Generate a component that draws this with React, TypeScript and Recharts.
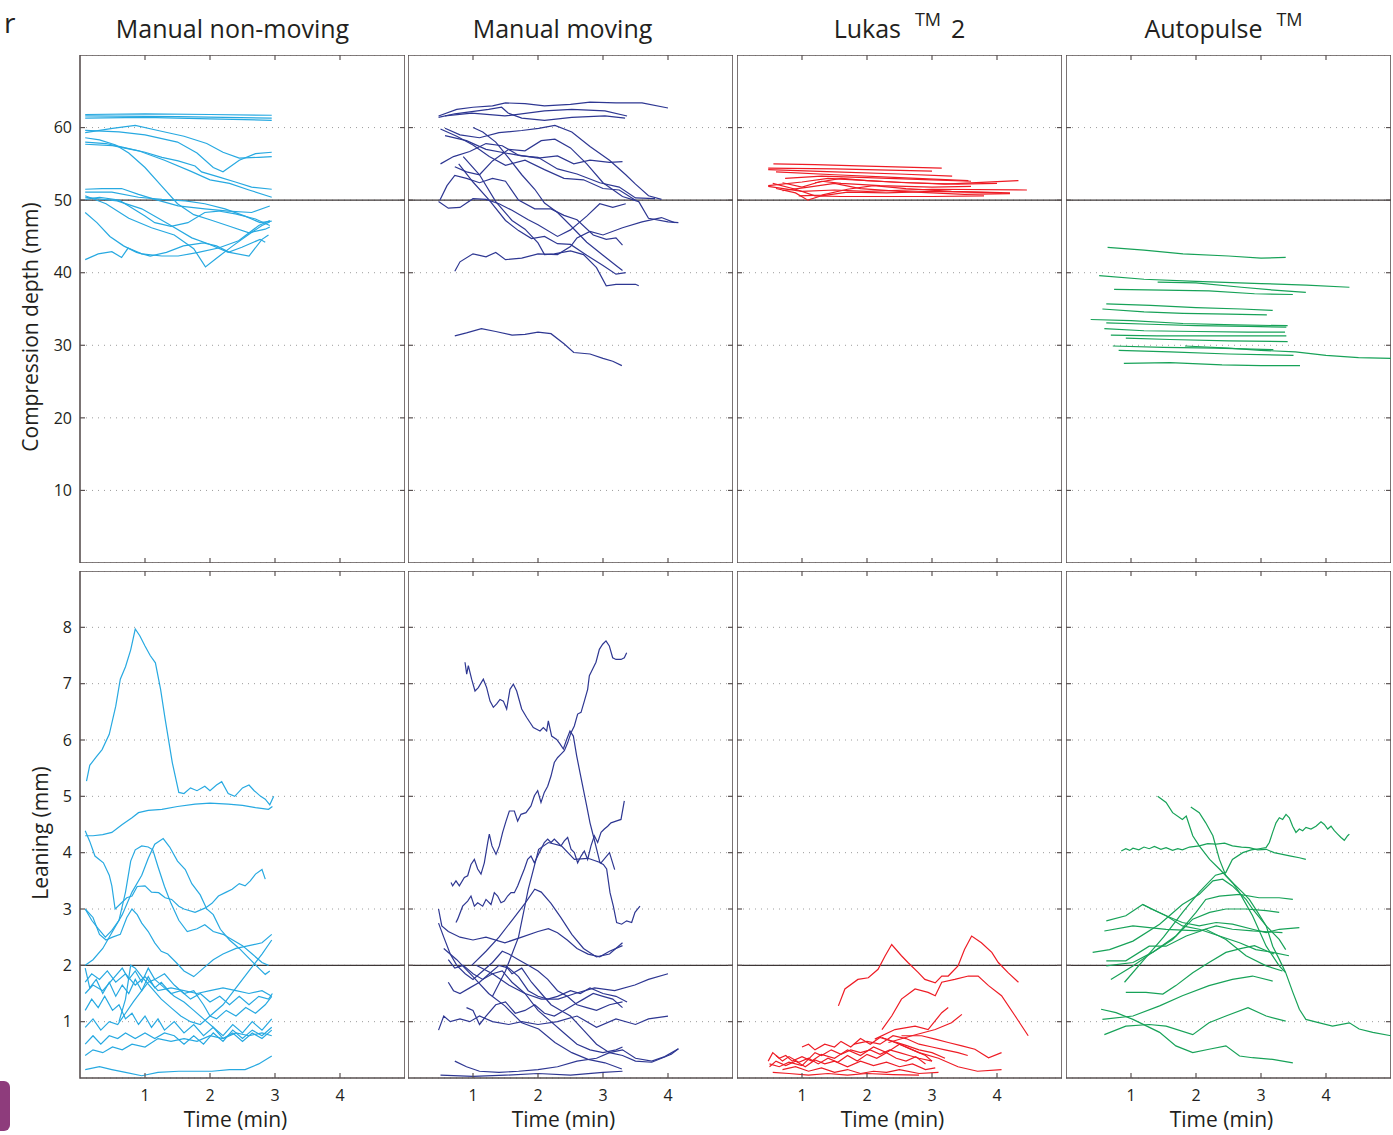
import React from "react";
import {
  LineChart,
  Line,
  XAxis,
  YAxis,
  CartesianGrid,
  ReferenceLine,
  ReferenceArea,
} from "recharts";

type Pt = [number, number];

const FONT = "'Open Sans', 'DejaVu Sans', sans-serif";
const INK = "#231f20";
const FRAME = "#5a5252";

const groups = ["Manual non-moving", "Manual moving", "Lukas", "Autopulse"];
const colors = ["#27a9e1", "#2e3792", "#ee1c25", "#17a258"];
const timeTicks = [1, 2, 3, 4];
const depthTicks = [10, 20, 30, 40, 50, 60];
const leanTicks = [1, 2, 3, 4, 5, 6, 7, 8];

// compression depth (mm) vs time (min), one array of [t, v] per rescuer / device
const depthNonMoving: Pt[][] = [
  [[0.08, 61.8], [1.0, 61.9], [2.0, 61.8], [2.95, 61.7]],
  [[0.08, 61.6], [1.5, 61.5], [2.95, 61.3]],
  [[0.08, 61.3], [1.0, 61.4], [2.0, 61.2], [2.95, 61.0]],
  [[0.08, 59.3], [0.5, 59.9], [0.85, 60.3], [1.2, 59.6], [1.6, 58.8], [1.95, 57.8], [2.2, 56.6], [2.45, 55.8], [2.75, 55.9], [2.95, 56.0]],
  [[0.08, 59.6], [0.6, 59.4], [1.0, 59.0], [1.5, 58.0], [1.8, 56.5], [2.05, 54.5], [2.2, 53.9], [2.45, 55.5], [2.7, 56.4], [2.95, 56.6]],
  [[0.08, 58.0], [0.4, 57.8], [0.65, 57.3], [1.0, 56.6], [1.26, 55.9], [1.51, 55.4], [1.77, 54.7], [1.87, 53.9], [2.13, 53.2], [2.39, 52.5], [2.64, 51.8], [2.95, 51.5]],
  [[0.08, 57.7], [0.5, 57.5], [0.9, 56.8], [1.3, 55.5], [1.7, 54.0], [2.0, 52.8], [2.3, 52.3], [2.6, 51.4], [2.95, 50.4]],
  [[0.08, 58.6], [0.3, 58.3], [0.55, 57.6], [0.75, 56.5], [1.0, 54.5], [1.25, 52.0], [1.5, 49.5], [1.75, 48.0], [2.0, 47.3], [2.3, 46.4], [2.6, 45.5], [2.85, 46.0], [2.92, 46.3]],
  [[0.08, 51.5], [0.34, 51.6], [0.64, 51.6], [0.9, 50.8], [1.15, 50.1], [1.51, 49.2], [1.92, 48.8], [2.28, 48.5], [2.64, 48.3], [2.92, 49.2]],
  [[0.08, 51.1], [0.49, 51.1], [0.9, 50.4], [1.26, 50.1], [1.62, 49.9], [1.92, 49.5], [2.23, 48.8], [2.54, 47.8], [2.77, 46.9], [2.95, 47.1]],
  [[0.08, 50.1], [0.3, 50.4], [0.6, 50.0], [0.75, 49.2], [1.0, 47.8], [1.15, 46.9], [1.4, 46.4], [1.66, 46.9], [1.92, 48.3], [2.13, 48.5], [2.39, 48.1], [2.7, 47.4], [2.92, 46.5]],
  [[0.08, 48.3], [0.26, 46.9], [0.46, 45.0], [0.67, 43.7], [0.87, 42.8], [1.08, 42.3], [1.33, 42.8], [1.59, 43.7], [1.9, 44.1], [2.1, 43.7], [2.3, 42.8], [2.6, 42.3], [2.8, 44.6], [2.9, 45.2]],
  [[0.08, 41.8], [0.28, 42.6], [0.49, 42.9], [0.64, 42.1], [0.74, 43.4], [0.95, 42.6], [1.26, 42.3], [1.51, 42.3], [1.82, 42.8], [2.13, 43.4], [2.44, 44.4], [2.75, 46.5], [2.92, 47.2]],
  [[0.08, 50.6], [0.4, 49.5], [0.75, 47.5], [1.1, 46.2], [1.45, 45.2], [1.75, 43.3], [1.93, 40.8], [2.1, 42.0], [2.35, 43.7], [2.6, 45.3], [2.8, 46.5], [2.92, 47.0]],
  [[0.08, 50.4], [0.57, 49.9], [0.95, 48.8], [1.36, 46.7], [1.72, 44.8], [1.97, 44.0], [2.28, 42.8], [2.49, 43.5], [2.77, 44.6], [2.85, 44.2]],
];

const depthMoving: Pt[][] = [
  [[0.47, 61.6], [0.75, 62.5], [1.0, 62.8], [1.3, 63.0], [1.5, 63.4], [1.8, 63.3], [2.1, 63.0], [2.5, 63.2], [2.8, 63.5], [3.2, 63.4], [3.6, 63.4], [4.0, 62.7]],
  [[0.47, 61.4], [0.72, 61.9], [1.24, 62.5], [1.44, 62.8], [1.54, 62.0], [1.75, 61.3], [2.1, 61.0], [2.52, 61.4], [3.03, 61.6], [3.34, 61.3]],
  [[0.57, 61.6], [0.98, 62.0], [1.49, 61.6], [2.1, 62.3], [2.52, 62.5], [3.03, 62.3], [3.37, 61.6]],
  [[0.57, 59.9], [0.8, 59.0], [1.1, 58.6], [1.4, 59.3], [1.75, 59.6], [2.01, 59.9], [2.26, 60.3], [2.52, 59.4], [2.8, 57.4], [3.1, 55.5], [3.35, 53.5], [3.5, 52.2], [3.7, 50.6], [3.9, 50.1]],
  [[0.57, 58.9], [0.9, 58.2], [1.2, 57.0], [1.5, 56.5], [1.75, 56.1], [2.0, 55.9], [2.3, 54.3], [2.6, 53.6], [2.95, 52.4], [3.25, 51.8], [3.5, 50.3], [3.8, 50.2]],
  [[0.5, 55.0], [0.7, 56.0], [0.95, 56.7], [1.2, 57.8], [1.45, 57.5], [1.7, 56.2], [2.0, 55.8], [2.3, 56.1], [2.55, 55.0], [2.8, 55.5], [3.1, 55.2], [3.3, 55.3]],
  [[0.72, 54.6], [0.9, 53.9], [1.1, 53.5], [1.3, 55.4], [1.55, 57.0], [1.8, 56.8], [2.05, 58.2], [2.26, 58.4], [2.5, 57.2], [2.75, 55.0], [3.0, 52.4], [3.3, 50.5], [3.55, 49.8], [3.7, 47.5], [4.0, 47.0], [4.16, 46.9]],
  [[0.49, 50.0], [0.6, 52.0], [0.72, 53.4], [0.9, 53.0], [1.1, 52.4], [1.3, 53.0], [1.5, 52.6], [1.7, 50.0], [1.95, 48.8], [2.2, 48.8], [2.4, 47.9], [2.6, 47.3], [2.85, 45.2], [3.05, 44.6], [3.2, 44.8], [3.3, 43.8]],
  [[0.47, 49.8], [0.62, 48.9], [0.8, 49.0], [1.0, 50.2], [1.2, 50.1], [1.4, 49.5], [1.6, 48.6], [1.85, 47.3], [2.0, 46.6], [2.3, 45.0], [2.5, 45.9], [2.75, 47.8], [2.95, 49.5], [3.15, 49.0], [3.35, 49.5]],
  [[0.85, 56.0], [1.1, 53.5], [1.35, 49.8], [1.6, 47.2], [1.8, 46.0], [2.0, 44.1], [2.1, 42.5], [2.25, 42.6], [2.5, 43.0], [2.7, 42.5], [2.9, 40.7], [3.05, 38.2], [3.2, 38.4], [3.5, 38.4], [3.55, 38.2]],
  [[0.78, 55.0], [1.0, 52.5], [1.25, 50.0], [1.5, 47.2], [1.7, 45.8], [1.9, 44.7], [2.1, 45.0], [2.3, 44.0], [2.5, 43.9], [2.75, 42.4], [3.0, 41.0], [3.2, 39.8], [3.35, 40.0]],
  [[0.72, 40.2], [0.8, 41.5], [1.0, 42.6], [1.2, 42.2], [1.35, 42.8], [1.5, 41.8], [1.75, 42.0], [2.0, 42.6], [2.3, 42.5], [2.5, 43.6], [2.6, 44.8], [2.8, 45.7], [3.0, 45.2], [3.3, 46.2], [3.6, 47.0], [3.9, 47.6], [4.1, 46.9]],
  [[0.72, 31.3], [0.9, 31.7], [1.13, 32.3], [1.35, 31.9], [1.6, 31.4], [1.8, 31.5], [2.0, 31.8], [2.2, 31.6], [2.4, 30.2], [2.55, 29.0], [2.8, 28.8], [3.0, 28.2], [3.15, 27.8], [3.29, 27.2]],
  [[1.0, 60.0], [1.15, 59.4], [1.35, 58.0], [1.55, 55.8], [1.75, 53.5], [1.95, 51.5], [2.1, 49.6], [2.3, 48.3], [2.5, 46.5], [2.75, 44.2], [3.0, 42.4], [3.2, 41.0], [3.3, 40.3]],
  [[0.5, 59.8], [0.75, 58.8], [1.0, 57.6], [1.25, 56.0], [1.5, 54.8], [1.8, 55.5], [2.1, 54.2], [2.4, 53.0], [2.7, 52.8], [3.0, 51.6], [3.25, 51.4], [3.5, 50.0]],
];

const depthLukas: Pt[][] = [
  [[0.56, 55.0], [1.2, 54.9], [2.0, 54.7], [3.15, 54.4]],
  [[0.48, 54.4], [1.5, 54.3], [2.5, 54.1], [3.0, 54.0]],
  [[0.48, 54.2], [1.5, 53.9], [2.5, 53.6], [3.31, 53.3]],
  [[0.6, 53.9], [1.5, 53.5], [2.5, 53.1], [3.56, 52.7]],
  [[0.74, 53.0], [1.3, 53.3], [2.0, 53.1], [3.0, 52.8], [3.6, 52.6]],
  [[0.48, 52.0], [1.0, 52.5], [1.4, 53.0], [1.8, 52.8], [2.4, 52.5], [3.2, 52.2], [4.33, 52.7]],
  [[0.48, 51.9], [1.0, 51.2], [1.5, 51.4], [2.0, 51.2], [3.0, 51.5], [4.46, 51.4]],
  [[0.6, 51.6], [0.9, 51.0], [1.09, 50.0], [1.3, 50.6], [1.7, 51.1], [2.3, 51.0], [3.0, 51.2], [4.07, 51.0]],
  [[0.7, 52.4], [1.0, 51.8], [1.3, 52.6], [1.6, 52.3], [2.2, 52.0], [3.0, 51.8], [3.6, 51.9]],
  [[0.55, 52.3], [0.9, 51.5], [1.2, 50.6], [1.6, 50.5], [2.2, 50.5], [3.0, 50.5], [3.8, 50.6]],
  [[0.95, 50.6], [1.3, 50.7], [1.7, 51.5], [2.1, 52.0], [2.6, 51.6], [3.3, 51.2], [4.2, 51.0]],
  [[0.7, 51.3], [1.1, 51.8], [1.5, 52.3], [1.9, 51.6], [2.5, 51.2], [3.5, 50.8], [4.2, 50.9]],
  [[1.2, 52.4], [1.6, 53.0], [2.0, 52.7], [2.6, 52.4], [3.4, 52.2], [4.0, 52.3]],
];

const depthAutopulse: Pt[][] = [
  [[0.64, 43.5], [1.2, 43.1], [1.8, 42.6], [2.5, 42.3], [3.0, 42.0], [3.38, 42.1]],
  [[0.51, 39.6], [1.2, 39.1], [2.0, 38.8], [3.0, 38.5], [3.7, 38.3], [4.36, 38.0]],
  [[1.41, 38.7], [2.0, 38.6], [2.7, 38.0], [3.2, 37.6], [3.69, 37.3]],
  [[0.74, 37.7], [1.5, 37.6], [2.2, 37.5], [2.9, 37.1], [3.49, 37.0]],
  [[0.62, 35.7], [1.3, 35.5], [2.0, 35.2], [2.7, 35.0], [3.18, 34.8]],
  [[0.56, 35.0], [1.2, 34.6], [1.8, 34.4], [2.5, 34.3], [3.09, 34.2]],
  [[0.38, 33.55], [1.0, 33.4], [1.8, 33.0], [2.6, 32.8], [3.41, 32.7]],
  [[0.62, 33.1], [1.3, 32.9], [2.0, 32.7], [2.8, 32.6], [3.39, 32.5]],
  [[0.59, 32.3], [1.2, 32.0], [2.0, 31.9], [2.8, 31.8], [3.37, 31.8]],
  [[0.69, 31.4], [1.4, 31.3], [2.2, 31.3], [3.39, 31.3]],
  [[0.92, 31.0], [1.6, 30.8], [2.5, 30.6], [3.41, 30.5]],
  [[1.83, 29.9], [2.5, 29.6], [3.0, 29.3], [3.53, 29.1], [4.0, 28.6], [4.5, 28.3], [5.0, 28.2]],
  [[0.72, 29.9], [1.5, 29.7], [2.3, 29.6], [3.19, 29.4]],
  [[0.81, 29.3], [1.6, 29.1], [2.5, 28.8], [3.5, 28.6]],
  [[0.89, 27.5], [1.6, 27.6], [2.4, 27.3], [3.0, 27.2], [3.6, 27.2]],
];

// leaning (mm) vs time (min)
const leanNonMoving: Pt[][] = [
  [[0.1, 5.27], [0.15, 5.55], [0.25, 5.7], [0.34, 5.83], [0.45, 6.1], [0.55, 6.6], [0.62, 7.08], [0.7, 7.3], [0.78, 7.6], [0.85, 7.97], [0.92, 7.85], [1.0, 7.67], [1.08, 7.5], [1.16, 7.37], [1.24, 6.9], [1.31, 6.37], [1.42, 5.6], [1.52, 5.07], [1.6, 5.05], [1.7, 5.15], [1.8, 5.1], [1.92, 5.18], [2.0, 5.1], [2.1, 5.2], [2.18, 5.26], [2.28, 5.05], [2.38, 5.0], [2.5, 5.15], [2.6, 5.2], [2.68, 5.1], [2.78, 5.0], [2.85, 4.95], [2.92, 4.85], [2.98, 5.0]],
  [[0.08, 4.3], [0.2, 4.3], [0.35, 4.32], [0.49, 4.36], [0.65, 4.5], [0.8, 4.62], [0.9, 4.71], [1.05, 4.75], [1.26, 4.77], [1.5, 4.82], [1.77, 4.86], [2.0, 4.88], [2.28, 4.86], [2.5, 4.84], [2.7, 4.8], [2.9, 4.77], [2.96, 4.82]],
  [[0.08, 4.39], [0.15, 4.2], [0.23, 3.94], [0.36, 3.82], [0.45, 3.6], [0.49, 3.41], [0.54, 3.0], [0.64, 3.11], [0.72, 3.2], [0.8, 3.23], [0.88, 3.4], [1.0, 3.41], [1.1, 3.3], [1.21, 3.29], [1.31, 3.2], [1.41, 3.17], [1.52, 3.05], [1.6, 3.0], [1.77, 2.94], [1.93, 3.02], [2.03, 3.1], [2.13, 3.23], [2.25, 3.3], [2.34, 3.35], [2.45, 3.45], [2.54, 3.41], [2.62, 3.5], [2.7, 3.62], [2.8, 3.7], [2.85, 3.53]],
  [[0.08, 3.0], [0.18, 2.8], [0.28, 2.65], [0.39, 2.5], [0.49, 2.62], [0.6, 2.8], [0.7, 3.3], [0.78, 3.85], [0.85, 4.05], [0.95, 4.12], [1.05, 4.1], [1.12, 4.05], [1.2, 3.75], [1.3, 3.4], [1.4, 3.1], [1.52, 2.8], [1.65, 2.6], [1.8, 2.65], [1.92, 2.72], [2.05, 2.6], [2.2, 2.55], [2.35, 2.45], [2.5, 2.35], [2.65, 2.2], [2.8, 2.05], [2.9, 2.0]],
  [[0.08, 2.0], [0.2, 2.1], [0.35, 2.3], [0.5, 2.6], [0.65, 2.9], [0.8, 3.3], [0.95, 3.6], [1.05, 3.9], [1.15, 4.15], [1.28, 4.25], [1.38, 4.1], [1.5, 3.85], [1.62, 3.7], [1.72, 3.45], [1.85, 3.25], [1.95, 3.0], [2.05, 2.9], [2.16, 2.64], [2.3, 2.45], [2.45, 2.3], [2.62, 2.1], [2.75, 1.95], [2.85, 1.84], [2.92, 1.9]],
  [[0.08, 3.0], [0.2, 2.85], [0.3, 2.55], [0.4, 2.45], [0.5, 2.5], [0.62, 2.55], [0.72, 2.85], [0.8, 3.0], [0.88, 2.9], [0.95, 2.75], [1.05, 2.6], [1.15, 2.4], [1.25, 2.25], [1.35, 2.2], [1.48, 2.05], [1.6, 1.9], [1.75, 1.8], [1.9, 1.95], [2.05, 2.1], [2.2, 2.2], [2.4, 2.3], [2.6, 2.35], [2.8, 2.4], [2.95, 2.55]],
  [[0.08, 1.95], [0.15, 1.6], [0.25, 1.75], [0.35, 1.5], [0.45, 1.7], [0.55, 1.45], [0.65, 1.65], [0.75, 1.5], [0.85, 1.75], [0.95, 1.55], [1.05, 1.8], [1.15, 1.6], [1.25, 1.7], [1.4, 1.5], [1.55, 1.55], [1.7, 1.4], [1.85, 1.5], [2.0, 1.35], [2.15, 1.45], [2.3, 1.3], [2.45, 1.45], [2.6, 1.3], [2.75, 1.45], [2.9, 1.4], [2.96, 1.5]],
  [[0.08, 1.5], [0.2, 1.65], [0.35, 1.55], [0.5, 1.75], [0.65, 1.95], [0.75, 1.75], [0.85, 1.9], [0.95, 1.7], [1.05, 1.95], [1.15, 1.75], [1.3, 1.85], [1.45, 1.65], [1.6, 1.5], [1.75, 1.55], [1.9, 1.3], [2.0, 1.1], [2.1, 1.05], [2.25, 1.2], [2.4, 1.1], [2.55, 1.25], [2.7, 1.15], [2.85, 1.3], [2.95, 1.45]],
  [[0.08, 1.2], [0.18, 1.4], [0.28, 1.25], [0.38, 1.45], [0.5, 1.2], [0.6, 1.3], [0.7, 1.05], [0.8, 1.15], [0.9, 0.95], [1.0, 1.1], [1.1, 0.9], [1.2, 1.05], [1.3, 0.85], [1.45, 1.0], [1.6, 0.8], [1.75, 0.95], [1.9, 0.75], [2.05, 0.9], [2.2, 0.75], [2.35, 0.95], [2.5, 0.8], [2.65, 1.0], [2.8, 0.85], [2.95, 1.05]],
  [[0.08, 0.9], [0.2, 1.05], [0.32, 0.85], [0.45, 1.0], [0.58, 0.95], [0.7, 1.15], [0.82, 1.35], [0.95, 1.55], [1.05, 1.7], [1.15, 1.75], [1.3, 1.6], [1.45, 1.45], [1.6, 1.35], [1.75, 1.2], [1.9, 1.05], [2.05, 0.9], [2.2, 0.7], [2.35, 0.8], [2.5, 0.65], [2.65, 0.8], [2.8, 0.7], [2.95, 0.85]],
  [[0.08, 0.6], [0.2, 0.75], [0.32, 0.6], [0.45, 0.75], [0.58, 0.7], [0.7, 0.8], [0.85, 0.7], [1.0, 0.8], [1.15, 0.7], [1.3, 0.8], [1.45, 0.75], [1.6, 0.6], [1.75, 0.75], [1.9, 0.6], [2.05, 0.8], [2.2, 0.65], [2.35, 0.85], [2.5, 0.7], [2.65, 0.85], [2.8, 0.75], [2.95, 0.9]],
  [[0.08, 0.4], [0.2, 0.5], [0.35, 0.45], [0.5, 0.55], [0.65, 0.5], [0.8, 0.6], [1.0, 0.55], [1.2, 0.7], [1.4, 0.65], [1.6, 0.7], [1.8, 0.65], [2.0, 0.75], [2.2, 0.7], [2.4, 0.8], [2.6, 0.75], [2.8, 0.8], [2.95, 0.75]],
  [[0.08, 0.15], [0.3, 0.2], [0.49, 0.15], [0.7, 0.1], [0.95, 0.04], [1.2, 0.1], [1.52, 0.12], [1.8, 0.12], [2.03, 0.12], [2.3, 0.15], [2.54, 0.15], [2.75, 0.25], [2.95, 0.39]],
  [[0.08, 1.7], [0.18, 1.85], [0.3, 1.75], [0.42, 1.9], [0.55, 1.7], [0.7, 1.85], [0.85, 1.65], [1.0, 1.8], [1.2, 1.55], [1.4, 1.6], [1.6, 1.55], [1.8, 1.5], [2.0, 1.55], [2.2, 1.6], [2.4, 1.55], [2.6, 1.5], [2.8, 1.55], [2.95, 1.45]],
  [[0.6, 1.0], [0.7, 1.4], [0.78, 2.0], [0.85, 1.95], [0.95, 1.8], [1.1, 1.6], [1.25, 1.4], [1.4, 1.25], [1.55, 1.1], [1.7, 1.0], [1.85, 0.95], [2.0, 1.1], [2.2, 1.3], [2.4, 1.6], [2.6, 1.9], [2.8, 2.2], [2.95, 2.45]],
];

const leanMoving: Pt[][] = [
  [[0.877, 7.38], [0.903, 7.17], [0.928, 7.32], [0.979, 7.08], [1.031, 6.87], [1.082, 6.93], [1.159, 7.08], [1.21, 6.93], [1.262, 6.69], [1.313, 6.58], [1.364, 6.64], [1.415, 6.72], [1.467, 6.69], [1.518, 6.55], [1.569, 6.9], [1.621, 6.99], [1.672, 6.87], [1.749, 6.55], [1.826, 6.4], [1.877, 6.31], [1.928, 6.22], [1.979, 6.19], [2.031, 6.16], [2.082, 6.22], [2.133, 6.16], [2.159, 6.34], [2.21, 6.07], [2.287, 6.01], [2.338, 5.93], [2.39, 5.84], [2.441, 6.01], [2.492, 6.16], [2.544, 6.07], [2.595, 5.72], [2.646, 5.42], [2.697, 5.13], [2.749, 4.83], [2.8, 4.53], [2.851, 4.3], [2.903, 4.06], [2.954, 3.82], [3.005, 3.79], [3.056, 3.71], [3.108, 3.29], [3.159, 3.05], [3.21, 2.76], [3.287, 2.73], [3.364, 2.79], [3.441, 2.76], [3.492, 2.94], [3.569, 3.05]],
  [[0.662, 3.47], [0.687, 3.41], [0.738, 3.5], [0.79, 3.41], [0.867, 3.56], [0.918, 3.59], [0.969, 3.79], [1.021, 3.88], [1.072, 3.71], [1.123, 3.62], [1.174, 3.82], [1.226, 4.18], [1.251, 4.33], [1.292, 4.12], [1.354, 3.97], [1.405, 4.12], [1.456, 4.36], [1.508, 4.56], [1.559, 4.74], [1.636, 4.74], [1.687, 4.56], [1.738, 4.68], [1.815, 4.71], [1.892, 4.83], [1.944, 5.01], [1.995, 5.1], [2.046, 4.89], [2.097, 5.07], [2.149, 5.18], [2.2, 5.36], [2.251, 5.6], [2.303, 5.69], [2.354, 5.75], [2.405, 5.81], [2.456, 5.95], [2.508, 6.13], [2.559, 6.25], [2.61, 6.46], [2.662, 6.49], [2.713, 6.69], [2.764, 6.9], [2.79, 7.14], [2.841, 7.26], [2.892, 7.38], [2.944, 7.61], [2.995, 7.7], [3.046, 7.76], [3.097, 7.67], [3.149, 7.46], [3.2, 7.43], [3.277, 7.43], [3.328, 7.46], [3.364, 7.55]],
  [[0.738, 2.76], [0.764, 2.82], [0.841, 3.05], [0.918, 3.14], [0.969, 3.23], [1.021, 3.05], [1.072, 3.11], [1.149, 3.05], [1.2, 3.17], [1.277, 3.08], [1.328, 3.29], [1.379, 3.23], [1.431, 3.11], [1.482, 3.14], [1.533, 3.23], [1.585, 3.29], [1.636, 3.29], [1.687, 3.41], [1.738, 3.56], [1.79, 3.71], [1.841, 3.88], [1.892, 3.94], [1.944, 3.82], [1.995, 3.94], [2.046, 4.06], [2.097, 4.18], [2.149, 4.24], [2.2, 4.18], [2.251, 4.24], [2.303, 4.18], [2.354, 4.12], [2.405, 4.21], [2.456, 4.27], [2.508, 4.06], [2.559, 4.0], [2.61, 3.82], [2.662, 3.94], [2.713, 4.03], [2.764, 3.88], [2.815, 4.12], [2.867, 4.3], [2.918, 4.18], [2.97, 4.36], [3.021, 4.42], [3.072, 4.47], [3.123, 4.53], [3.2, 4.56], [3.277, 4.59], [3.328, 4.92]],
  [[1.3, 1.45], [1.5, 1.9], [1.7, 2.5], [1.85, 3.35], [2.01, 4.06], [2.16, 4.18], [2.36, 4.12], [2.56, 3.88], [2.77, 3.9], [2.97, 3.82], [3.1, 4.0], [3.18, 3.7]],
  [[0.47, 3.0], [0.52, 2.7], [0.62, 2.6], [0.8, 2.5], [1.0, 2.45], [1.2, 2.5], [1.49, 2.4], [1.75, 2.5], [2.0, 2.6], [2.16, 2.65], [2.3, 2.58], [2.45, 2.45], [2.6, 2.3], [2.77, 2.2], [2.95, 2.15], [3.1, 2.25], [3.3, 2.35]],
  [[0.98, 2.0], [1.2, 2.25], [1.4, 2.5], [1.6, 2.8], [1.8, 3.1], [1.95, 3.35], [2.05, 3.3], [2.2, 3.1], [2.35, 2.85], [2.52, 2.55], [2.7, 2.3], [2.9, 2.15], [3.1, 2.2], [3.3, 2.4]],
  [[0.47, 2.75], [0.55, 2.5], [0.65, 2.2], [0.75, 2.0], [0.88, 1.85], [1.0, 1.75], [1.15, 1.9], [1.3, 2.05], [1.45, 2.25], [1.55, 2.2], [1.7, 2.1], [1.85, 2.0], [2.0, 1.9], [2.15, 1.75], [2.3, 1.55], [2.45, 1.45], [2.6, 1.3], [2.75, 1.25], [2.9, 1.2], [3.1, 1.3], [3.3, 1.35]],
  [[0.62, 1.7], [0.7, 1.55], [0.8, 1.5], [0.95, 1.6], [1.1, 1.7], [1.25, 1.85], [1.4, 2.0], [1.55, 1.95], [1.7, 1.8], [1.85, 1.55], [2.0, 1.45], [2.15, 1.4], [2.3, 1.45], [2.5, 1.55], [2.65, 1.5], [2.8, 1.6], [3.0, 1.5], [3.2, 1.45], [3.37, 1.35]],
  [[1.5, 2.0], [1.6, 1.85], [1.75, 1.95], [1.9, 1.7], [2.05, 1.5], [2.2, 1.3], [2.35, 1.2], [2.5, 1.1], [2.7, 0.85], [2.9, 0.6], [3.1, 0.45], [3.3, 0.4], [3.5, 0.3], [3.75, 0.28], [3.9, 0.35], [4.05, 0.42], [4.16, 0.52]],
  [[1.05, 2.0], [1.3, 1.85], [1.55, 1.65], [1.8, 1.5], [2.05, 1.4], [2.31, 1.4], [2.57, 1.5], [2.87, 1.6], [3.18, 1.55], [3.49, 1.65], [3.7, 1.75], [4.0, 1.85]],
  [[0.47, 0.85], [0.55, 1.1], [0.65, 1.0], [0.8, 1.05], [0.95, 1.0], [1.1, 1.1], [1.3, 1.0], [1.55, 0.95], [1.75, 1.0], [2.0, 0.95], [2.3, 1.0], [2.6, 1.1], [2.9, 0.9], [3.2, 1.05], [3.5, 0.95], [3.7, 1.05], [4.0, 1.1]],
  [[0.72, 0.3], [0.9, 0.2], [1.1, 0.12], [1.4, 0.1], [1.7, 0.12], [2.0, 0.15], [2.3, 0.2], [2.6, 0.3], [2.9, 0.35], [3.1, 0.45], [3.3, 0.5], [3.5, 0.35], [3.75, 0.3], [3.95, 0.38], [4.16, 0.52]],
  [[0.5, 0.05], [1.0, 0.03], [1.5, 0.05], [2.0, 0.08], [2.5, 0.05], [3.0, 0.1], [3.3, 0.12]],
  [[0.55, 2.3], [0.75, 2.1], [1.0, 1.8], [1.24, 1.5], [1.49, 1.28], [1.75, 0.98], [2.01, 0.87], [2.26, 0.63], [2.52, 0.45], [2.77, 0.33], [3.03, 0.27], [3.29, 0.16]],
  [[0.62, 2.1], [0.72, 1.95], [0.85, 2.0], [1.0, 1.85], [1.15, 1.75], [1.3, 1.85], [1.45, 1.9], [1.6, 1.7], [1.8, 1.5], [2.0, 1.2], [2.2, 1.0], [2.4, 0.8], [2.6, 0.6], [2.8, 0.5], [3.0, 0.45], [3.2, 0.5], [3.3, 0.55]],
  [[0.9, 1.25], [1.0, 1.2], [1.1, 0.95], [1.2, 1.1], [1.35, 1.3], [1.5, 1.35], [1.65, 1.15], [1.8, 1.2], [1.95, 1.3], [2.1, 1.15], [2.25, 1.1], [2.4, 1.2], [2.55, 1.3], [2.7, 1.4], [2.85, 1.5], [3.0, 1.45], [3.15, 1.4], [3.3, 1.25]],
];

const leanLukas: Pt[][] = [
  [[1.56, 1.28], [1.66, 1.58], [1.86, 1.75], [2.02, 1.78], [2.17, 1.93], [2.28, 2.17], [2.38, 2.37], [2.53, 2.17], [2.63, 2.05], [2.79, 1.87], [2.89, 1.75], [3.05, 1.69], [3.15, 1.81], [3.25, 1.81], [3.4, 1.99], [3.5, 2.28], [3.61, 2.52], [3.76, 2.4], [3.92, 2.23], [4.02, 2.05], [4.17, 1.87], [4.33, 1.7]],
  [[2.23, 0.86], [2.38, 1.1], [2.53, 1.4], [2.74, 1.58], [2.94, 1.52], [3.05, 1.46], [3.15, 1.7], [3.35, 1.75], [3.56, 1.81], [3.71, 1.81], [3.87, 1.64], [4.07, 1.46], [4.28, 1.1], [4.48, 0.75]],
  [[2.12, 0.69], [2.43, 0.86], [2.74, 0.92], [2.94, 0.86], [3.15, 1.16], [3.25, 1.25]],
  [[2.33, 0.63], [2.69, 0.75], [3.05, 0.86], [3.3, 0.98], [3.46, 1.13]],
  [[2.53, 0.75], [2.84, 0.75], [3.05, 0.69], [3.25, 0.63], [3.46, 0.57], [3.66, 0.51], [3.87, 0.36], [4.07, 0.45]],
  [[2.23, 0.72], [2.5, 0.6], [2.8, 0.45], [3.1, 0.35], [3.4, 0.2], [3.7, 0.12], [4.07, 0.15]],
  [[0.48, 0.3], [0.55, 0.45], [0.65, 0.35], [0.75, 0.4], [0.85, 0.3], [1.0, 0.38], [1.15, 0.3], [1.3, 0.42], [1.5, 0.35], [1.7, 0.5], [1.9, 0.4], [2.1, 0.55], [2.3, 0.45], [2.5, 0.6], [2.7, 0.5], [2.9, 0.4], [3.0, 0.3]],
  [[0.5, 0.2], [0.6, 0.3], [0.75, 0.22], [0.9, 0.3], [1.05, 0.2], [1.2, 0.32], [1.35, 0.25], [1.5, 0.3], [1.7, 0.2], [1.9, 0.3], [2.1, 0.22], [2.3, 0.28], [2.5, 0.2], [2.7, 0.25], [2.9, 0.15], [3.05, 0.18]],
  [[0.7, 0.15], [0.9, 0.2], [1.1, 0.12], [1.3, 0.18], [1.5, 0.1], [1.7, 0.15], [1.9, 0.08], [2.1, 0.12], [2.3, 0.1], [2.5, 0.15], [2.8, 0.08], [3.1, 0.1]],
  [[1.0, 0.55], [1.1, 0.6], [1.2, 0.5], [1.35, 0.6], [1.5, 0.55], [1.6, 0.65], [1.75, 0.55], [1.9, 0.7], [2.05, 0.6], [2.2, 0.72], [2.4, 0.65], [2.6, 0.58], [2.8, 0.5], [3.0, 0.45], [3.2, 0.35]],
  [[0.55, 0.1], [0.8, 0.08], [1.1, 0.05], [1.4, 0.08], [1.7, 0.05], [2.0, 0.08], [2.4, 0.06], [2.8, 0.05]],
  [[0.6, 0.4], [0.7, 0.3], [0.8, 0.38], [0.95, 0.28], [1.1, 0.35], [1.25, 0.25], [1.4, 0.35], [1.55, 0.28], [1.7, 0.4], [1.85, 0.3], [2.0, 0.42], [2.15, 0.35], [2.3, 0.45], [2.45, 0.35], [2.6, 0.3], [2.75, 0.38], [2.9, 0.25]],
  [[0.5, 0.25], [0.65, 0.2], [0.8, 0.28], [1.0, 0.22], [1.2, 0.45], [1.3, 0.4], [1.45, 0.5], [1.6, 0.42], [1.75, 0.5], [1.9, 0.45], [2.05, 0.5], [2.2, 0.42], [2.35, 0.5], [2.5, 0.45], [2.65, 0.4], [2.8, 0.35], [3.0, 0.3]],
  [[1.8, 0.6], [2.0, 0.65], [2.2, 0.6], [2.4, 0.75], [2.6, 0.7], [2.8, 0.6], [3.0, 0.55], [3.2, 0.5], [3.4, 0.45], [3.55, 0.4]],
];

const leanAutopulse: Pt[][] = [
  [[1.41, 5.0], [1.54, 4.89], [1.64, 4.71], [1.79, 4.59], [1.85, 4.65], [1.95, 4.3], [2.05, 4.12], [2.21, 3.88], [2.36, 3.71], [2.46, 3.59], [2.56, 3.47], [2.72, 3.29], [2.82, 3.17], [2.95, 2.94], [3.08, 2.7], [3.18, 2.34], [3.28, 2.11], [3.38, 1.87], [3.49, 1.52], [3.59, 1.22], [3.69, 1.04], [3.9, 0.98], [4.1, 0.92], [4.36, 0.98], [4.51, 0.87], [4.72, 0.81], [5.0, 0.75]],
  [[1.92, 4.81], [2.05, 4.71], [2.15, 4.53], [2.26, 4.3], [2.36, 3.88], [2.46, 3.59], [2.56, 3.47], [2.67, 3.29], [2.87, 2.88], [3.08, 2.34], [3.28, 1.99], [3.38, 1.87]],
  [[0.85, 4.03], [0.92, 4.07], [0.98, 4.04], [1.03, 4.08], [1.12, 4.05], [1.2, 4.1], [1.28, 4.07], [1.36, 4.11], [1.46, 4.06], [1.54, 4.09], [1.64, 4.04], [1.72, 4.07], [1.79, 4.05], [1.9, 4.1], [2.05, 4.12], [2.18, 4.16], [2.31, 4.15], [2.44, 4.17], [2.56, 4.12], [2.7, 4.1], [2.82, 4.09], [2.95, 4.05], [3.08, 4.06], [3.2, 4.0], [3.33, 3.97], [3.46, 3.94], [3.59, 3.91], [3.69, 3.88]],
  [[0.9, 1.7], [1.2, 2.1], [1.5, 2.5], [1.8, 2.95], [2.05, 3.3], [2.3, 3.6], [2.46, 3.65], [2.56, 3.88], [2.72, 4.0], [2.85, 4.05], [2.97, 4.07], [3.077, 4.09], [3.128, 4.18], [3.179, 4.36], [3.231, 4.53], [3.282, 4.62], [3.333, 4.59], [3.385, 4.68], [3.436, 4.62], [3.487, 4.47], [3.538, 4.36], [3.59, 4.42], [3.641, 4.39], [3.692, 4.45], [3.769, 4.42], [3.846, 4.47], [3.923, 4.55], [3.974, 4.5], [4.026, 4.42], [4.077, 4.47], [4.128, 4.39], [4.179, 4.33], [4.231, 4.27], [4.282, 4.22], [4.333, 4.3], [4.359, 4.33]],
  [[0.62, 2.79], [0.92, 2.88], [1.18, 3.08], [1.33, 2.99], [1.54, 2.88], [1.79, 2.76], [2.05, 2.7], [2.31, 2.76], [2.56, 2.73], [2.87, 2.64], [3.08, 2.58], [3.28, 2.64], [3.59, 2.67]],
  [[0.59, 2.61], [1.03, 2.7], [1.54, 2.64], [2.05, 2.61], [2.31, 2.7], [2.56, 2.64], [2.87, 2.61], [3.33, 2.58]],
  [[0.41, 2.23], [0.67, 2.28], [1.03, 2.43], [1.44, 2.73], [1.79, 3.08], [2.05, 3.26], [2.26, 3.5], [2.41, 3.53], [2.56, 3.41], [2.77, 3.17], [2.87, 3.0], [3.08, 2.7], [3.28, 2.46], [3.38, 2.28]],
  [[0.62, 1.99], [1.03, 2.05], [1.33, 2.23], [1.69, 2.52], [2.0, 2.94], [2.15, 3.17], [2.36, 3.23], [2.67, 3.26], [2.97, 3.2], [3.28, 3.2], [3.49, 3.17]],
  [[0.69, 1.75], [1.03, 1.99], [1.33, 2.23], [1.64, 2.46], [1.95, 2.82], [2.21, 2.94], [2.46, 3.0], [2.77, 3.0], [3.08, 2.97], [3.28, 2.94]],
  [[1.18, 3.08], [1.54, 2.88], [1.79, 2.7], [2.05, 2.64], [2.36, 2.52], [2.67, 2.4], [2.92, 2.28], [3.18, 2.23], [3.43, 2.17]],
  [[0.62, 2.08], [0.92, 2.08], [1.28, 2.34], [1.54, 2.34], [1.85, 2.52], [2.15, 2.64], [2.46, 2.46], [2.77, 2.17], [3.08, 1.99], [3.33, 1.9]],
  [[0.92, 1.52], [1.23, 1.52], [1.49, 1.49], [1.69, 1.64], [1.95, 1.87], [2.2, 2.05], [2.46, 2.23], [2.7, 2.3], [2.9, 2.35], [3.1, 2.25], [3.2, 2.2]],
  [[0.54, 1.22], [0.77, 1.16], [1.03, 1.04], [1.44, 0.81], [1.69, 0.57], [1.95, 0.45], [2.2, 0.51], [2.46, 0.57], [2.67, 0.39], [2.87, 0.36], [3.18, 0.33], [3.49, 0.27]],
  [[0.59, 0.77], [0.92, 0.92], [1.28, 0.95], [1.54, 0.92], [1.95, 0.77], [2.2, 0.98], [2.46, 1.1], [2.8, 1.25], [3.08, 1.1], [3.38, 1.01]],
  [[0.56, 1.04], [1.03, 1.1], [1.44, 1.28], [1.79, 1.46], [2.2, 1.64], [2.56, 1.75], [2.87, 1.81], [3.18, 1.72]],
];

const depthSets = [depthNonMoving, depthMoving, depthLukas, depthAutopulse];
const leanSets = [leanNonMoving, leanMoving, leanLukas, leanAutopulse];

const COL_LEFT = [80, 408, 737, 1066];
const TITLE_SHIFT = [-10, -8, 0, 0];
const PLOT_W = 325;
const ROW_TOP = [55, 571];
const ROW_H = [508, 507];
const LEFT_W = 80;
const BOTTOM_H = 58;
const TICK_PX = 5;
const X_MAX = 5;

interface PanelProps {
  lines: Pt[][];
  color: string;
  left: number;
  top: number;
  plotH: number;
  yMax: number;
  yTicks: number[];
  refY: number;
  showY: boolean;
  showX: boolean;
}

function Panel({ lines, color, left, top, plotH, yMax, yTicks, refY, showY, showX }: PanelProps) {
  const w = PLOT_W + (showY ? LEFT_W : 0);
  const h = plotH + (showX ? BOTTOM_H : 0);
  const tickStyle = { fontSize: 16, fill: INK, fontFamily: FONT };
  // inward tick marks (MATLAB style), expressed in data units
  const tx = (TICK_PX / PLOT_W) * X_MAX;
  const ty = (TICK_PX / plotH) * yMax;
  const marks: { x: number; y: number }[][] = [
    ...timeTicks.map((t) => [{ x: t, y: 0 }, { x: t, y: ty }]),
    ...timeTicks.map((t) => [{ x: t, y: yMax }, { x: t, y: yMax - ty }]),
    ...yTicks.map((v) => [{ x: 0, y: v }, { x: tx, y: v }]),
    ...yTicks.map((v) => [{ x: X_MAX, y: v }, { x: X_MAX - tx, y: v }]),
  ];
  return (
    <div style={{ position: "absolute", left: left - (showY ? LEFT_W : 0), top, width: w, height: h }}>
      <LineChart width={w} height={h} margin={{ top: 0, right: 0, bottom: 0, left: 0 }}>
        <CartesianGrid xAxisId="x" yAxisId="y" vertical={false} stroke="#9c9c9c" strokeDasharray="1 5" />
        <XAxis
          xAxisId="x"
          type="number"
          dataKey="t"
          domain={[0, X_MAX]}
          allowDataOverflow
          ticks={timeTicks}
          hide={!showX}
          height={BOTTOM_H}
          axisLine={false}
          tickLine={false}
          tickSize={0}
          tickMargin={12}
          tick={tickStyle}
          label={{ value: "Time (min)", position: "insideBottom", offset: 9, dx: -7, fontSize: 21, fill: INK, fontFamily: FONT }}
        />
        <YAxis
          yAxisId="y"
          type="number"
          domain={[0, yMax]}
          allowDataOverflow
          ticks={yTicks}
          hide={!showY}
          width={LEFT_W}
          axisLine={false}
          tickLine={false}
          tickSize={0}
          tickMargin={8}
          tick={tickStyle}
        />
        <ReferenceLine xAxisId="x" yAxisId="y" y={refY} stroke="#3d3636" strokeWidth={1.3} />
        {lines.map((pts, i) => (
          <Line
            key={i}
            xAxisId="x"
            yAxisId="y"
            data={pts.map(([t, v]) => ({ t, v }))}
            dataKey="v"
            type="linear"
            stroke={color}
            strokeWidth={1.2}
            dot={false}
            activeDot={false}
            isAnimationActive={false}
          />
        ))}
        {marks.map((seg, i) => (
          <ReferenceLine key={"m" + i} xAxisId="x" yAxisId="y" segment={seg} stroke={FRAME} strokeWidth={1.2} />
        ))}
        <ReferenceArea xAxisId="x" yAxisId="y" x1={0} x2={X_MAX} y1={0} y2={yMax} fill="none" stroke={FRAME} strokeWidth={1.6} />
      </LineChart>
    </div>
  );
}

const titleStyle: React.CSSProperties = {
  position: "absolute",
  top: 10,
  width: PLOT_W,
  textAlign: "center",
  fontFamily: FONT,
  fontSize: 25,
  color: INK,
  lineHeight: "36px",
};

const supStyle: React.CSSProperties = { fontSize: 18, position: "relative", top: -12, margin: "0 10px 0 14px" };

const axisTitle: React.CSSProperties = {
  position: "absolute",
  width: 300,
  height: 30,
  lineHeight: "30px",
  textAlign: "center",
  transform: "rotate(-90deg)",
  fontFamily: FONT,
  fontSize: 21,
  color: INK,
};

export default function App() {
  return (
    <div style={{ position: "absolute", left: 0, top: 0, width: 1393, height: 1135, background: "#fff", overflow: "hidden" }}>
      <div style={{ position: "absolute", left: 4, top: 4, width: 24, height: 36, fontFamily: FONT, fontSize: 28, lineHeight: "36px", color: INK }}>r</div>
      <div style={{ position: "absolute", left: 0, top: 1081, width: 10, height: 50, background: "#8e3c7c", borderRadius: "0 6px 6px 0" }} />
      {groups.map((g, c) => (
        <div key={g} style={{ ...titleStyle, left: COL_LEFT[c] + TITLE_SHIFT[c] }}>
          {c < 2 ? g : (
            <span>
              {g}
              <span style={supStyle}>TM</span>
              {c === 2 ? "2" : ""}
            </span>
          )}
        </div>
      ))}
      <div style={{ ...axisTitle, left: 30 - 150, top: 327 - 15 }}>Compression depth (mm)</div>
      <div style={{ ...axisTitle, left: 40 - 150, top: 833 - 15 }}>Leaning (mm)</div>
      {depthSets.map((lines, c) => (
        <Panel key={"d" + c} lines={lines} color={colors[c]} left={COL_LEFT[c]} top={ROW_TOP[0]} plotH={ROW_H[0]} yMax={70} yTicks={depthTicks} refY={50} showY={c === 0} showX={false} />
      ))}
      {leanSets.map((lines, c) => (
        <Panel key={"l" + c} lines={lines} color={colors[c]} left={COL_LEFT[c]} top={ROW_TOP[1]} plotH={ROW_H[1]} yMax={9} yTicks={leanTicks} refY={2} showY={c === 0} showX />
      ))}
    </div>
  );
}
